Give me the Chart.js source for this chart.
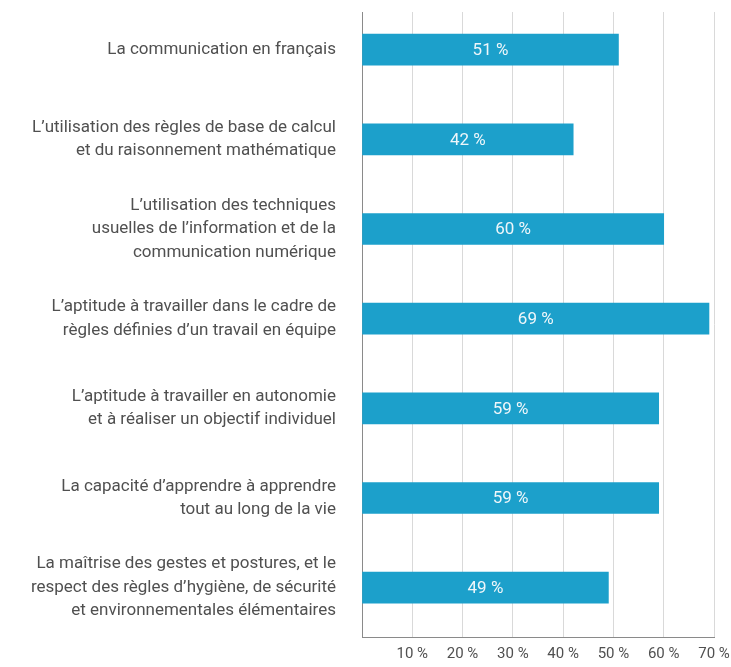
<!DOCTYPE html>
<html>
<head>
<meta charset="utf-8">
<script src="https://cdn.jsdelivr.net/npm/chart.js@4/dist/chart.umd.min.js"></script>
<style>
html,body{margin:0;padding:0;background:#fff;}
#wrap{width:731px;height:667px;}
</style>
</head>
<body>
<div id="wrap"><canvas id="c" width="731" height="667"></canvas></div>
<script>
const categories = [
  ['La communication en français'],
  ['L’utilisation des règles de base de calcul', 'et du raisonnement mathématique'],
  ['L’utilisation des techniques', 'usuelles de l’information et de la', 'communication numérique'],
  ['L’aptitude à travailler dans le cadre de', 'règles définies d’un travail en équipe'],
  ['L’aptitude à travailler en autonomie', 'et à réaliser un objectif individuel'],
  ['La capacité d’apprendre à apprendre', 'tout au long de la vie'],
  ['La maîtrise des gestes et postures, et le', 'respect des règles d’hygiène, de sécurité', 'et environnementales élémentaires']
];
const values = [51, 42, 60, 69, 59, 59, 49];
const valueLabels = ['51 %', '42 %', '60 %', '69 %', '59 %', '59 %', '49 %'];
const xTickValues = [10, 20, 30, 40, 50, 60, 70];
const xTickLabels = ['10 %', '20 %', '30 %', '40 %', '50 %', '60 %', '70 %'];

const FONT = 'Roboto, "Noto Sans", sans-serif';

const barLabelPlugin = {
  id: 'barLabels',
  afterDatasetsDraw(chart) {
    const ctx = chart.ctx;
    const meta = chart.getDatasetMeta(0);
    ctx.save();
    ctx.fillStyle = '#eef6fa';
    ctx.font = '17px ' + FONT;
    ctx.textAlign = 'center';
    ctx.textBaseline = 'middle';
    meta.data.forEach((bar, i) => {
      const p = bar.getProps(['x', 'y', 'base'], true);
      ctx.fillText(valueLabels[i], (p.x + p.base) / 2, p.y + 1);
    });
    ctx.restore();
  }
};

new Chart(document.getElementById('c'), {
  type: 'bar',
  data: {
    datasets: [{
      data: values.map((v, i) => ({ x: v, y: i })),
      backgroundColor: '#1ca0cb',
      borderWidth: 0,
      barThickness: 31
    }]
  },
  options: {
    indexAxis: 'y',
    responsive: false,
    animation: false,
    layout: { padding: { top: 12, right: 17, left: 0, bottom: 0 } },
    plugins: { legend: { display: false }, tooltip: { enabled: false } },
    scales: {
      x: {
        type: 'linear',
        min: 0,
        max: 70,
        afterBuildTicks(scale) {
          scale.ticks = [0].concat(xTickValues).map(v => ({ value: v }));
        },
        afterFit(scale) {
          scale.height = 30;
          scale.paddingLeft = 0; scale.paddingRight = 0;
        },
        grid: { color: '#d9d9d9', lineWidth: 1, drawTicks: false },
        border: { display: true, color: '#8a8a8a', width: 1 },
        ticks: {
          padding: 8,
          color: '#505050',
          font: { family: FONT, size: 15 },
          callback(v) {
            const k = xTickValues.indexOf(v);
            return k >= 0 ? xTickLabels[k] : '';
          }
        }
      },
      y: {
        type: 'linear',
        reverse: true,
        offset: false,
        min: -0.42,
        max: 6.55,
        afterBuildTicks(scale) {
          scale.ticks = categories.map((c, i) => ({ value: i }));
        },
        afterFit(scale) {
          scale.width = 362;
          scale.paddingTop = 0; scale.paddingBottom = 0;
        },
        grid: { display: false, drawTicks: false, offset: false },
        border: { display: true, color: '#8a8a8a', width: 1 },
        ticks: {
          autoSkip: false,
          padding: 26,
          color: '#505050',
          font: { family: FONT, size: 17, lineHeight: 1.38 },
          callback(v) {
            return categories[v] || '';
          }
        }
      }
    }
  },
  plugins: [barLabelPlugin]
});
</script>
</body>
</html>
